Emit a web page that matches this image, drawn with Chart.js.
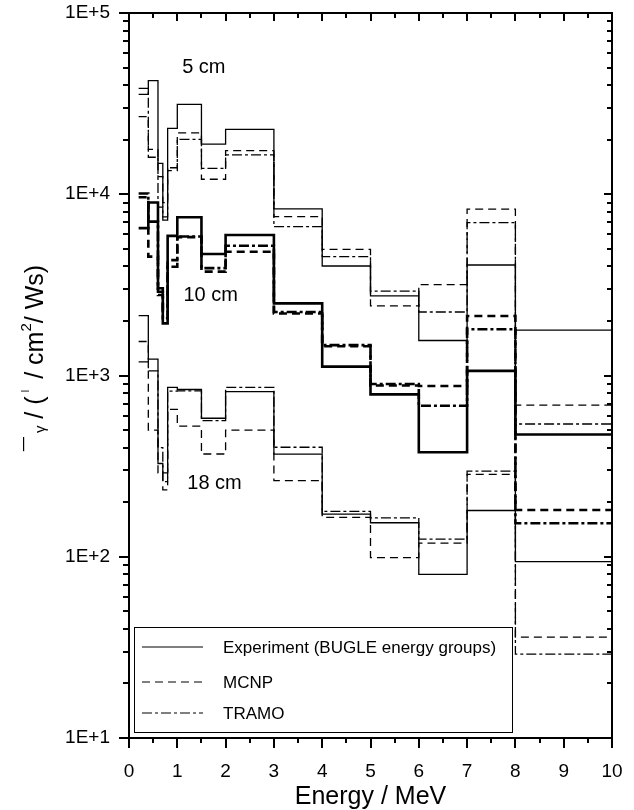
<!DOCTYPE html>
<html>
<head>
<meta charset="utf-8">
<script src="https://cdn.jsdelivr.net/npm/chart.js@4"></script>
<style>
  html, body { margin: 0; padding: 0; background: #fff; }
  #wrap { width: 634px; height: 810px; }
</style>
</head>
<body>
<div id="wrap"><canvas id="chart" width="634" height="810"></canvas></div>
<script>
// BUGLE energy group edges (MeV)
const edges = [0.2, 0.4, 0.6, 0.7, 0.8, 1.0, 1.5, 2, 3, 4, 5, 6, 7, 8, 10];

// 5 cm
const exp5   = [35600, 42400, 14800, 7200, 23100, 31300, 18900, 22800, 8300, 4020, 2750, 1560, 4070, 1780];
const mcnp5  = [26800, 17700, 12500, 9000, 13500, 21800, 12100, 17400, 7520, 4970, 2420, 3170, 8270, 687];
const tramo5 = [38400, 16000, 8500, 7500, 14000, 20100, 13900, 16500, 6620, 4530, 2920, 2240, 6970, 540];

// 10 cm
const exp10   = [6500, 9000, 3030, 1940, 5890, 7470, 4680, 5960, 2500, 1120, 787, 377, 1060, 473];
const mcnp10  = [9620, 4530, 2780, 2300, 4330, 5800, 3740, 4820, 2200, 1450, 880, 875, 2130, 181];
const tramo10 = [10100, 7060, 2900, 2070, 3980, 5850, 3910, 5200, 2240, 1470, 898, 681, 1800, 153];

// 18 cm
const exp18   = [2140, 1230, 327, 290, 859, 837, 581, 814, 368, 172, 154, 80, 180, 94];
const mcnp18  = [1540, 500, 290, 234, 650, 526, 369, 500, 263, 165, 99, 119, 285, 36];
const tramo18 = [1190, 1060, 400, 260, 820, 822, 563, 859, 402, 178, 164, 125, 297, 29];

const yTicks = [10, 100, 1000, 10000, 100000];
const xTicks = [0, 1, 2, 3, 4, 5, 6, 7, 8, 9, 10];

const depthLabels = [
    { text: '5 cm', x: 1.55, y: 50000 },
    { text: '10 cm', x: 1.69, y: 2780 },
    { text: '18 cm', x: 1.77, y: 255 }
];

const legendItems = [
    { text: 'Experiment (BUGLE energy groups)', dash: [] },
    { text: 'MCNP', dash: [8, 5] },
    { text: 'TRAMO', dash: [10, 3, 3, 3] }
];

const FONT = "'Liberation Sans', Arial, sans-serif";
Chart.defaults.font.family = FONT;
Chart.defaults.color = '#000';

// bin values -> step points; value holds from its edge to the next one
function steps(vals) {
    return edges.map((x, i) => ({ x: x, y: vals[Math.min(i, vals.length - 1)] }));
}

function series(vals, dash, width) {
    return {
        data: steps(vals),
        stepped: 'before',
        borderColor: '#000',
        borderWidth: width,
        borderDash: dash,
        pointRadius: 0,
        fill: false
    };
}

// frame, ticks, legend box, labels
const decorPlugin = {
    id: 'decor',
    afterDraw(chart) {
        const ctx = chart.ctx;
        const a = chart.chartArea;
        const xs = chart.scales.x, ys = chart.scales.y;
        ctx.save();
        ctx.strokeStyle = '#000';
        ctx.setLineDash([]);

        // x ticks
        ctx.lineWidth = 2;
        for (let v = 0; v <= 10.001; v += 0.5) {
            const px = Math.round(xs.getPixelForValue(v));
            const major = Math.abs(v - Math.round(v)) < 1e-6;
            ctx.beginPath();
            ctx.moveTo(px, a.bottom); ctx.lineTo(px, a.bottom + (major ? 10 : 5));
            ctx.moveTo(px, a.top); ctx.lineTo(px, a.top + (major ? 8 : 5));
            ctx.stroke();
        }
        // y ticks
        for (let d = 1; d <= 5; d++) {
            for (let m = 1; m <= 9; m++) {
                const v = m * Math.pow(10, d);
                if (v > 100000) break;
                const py = Math.round(ys.getPixelForValue(v));
                const major = m === 1;
                ctx.beginPath();
                ctx.moveTo(a.left, py); ctx.lineTo(a.left - (major ? 10 : 6), py);
                ctx.moveTo(a.right, py); ctx.lineTo(a.right - (major ? 8 : 5), py);
                ctx.stroke();
            }
        }
        // frame
        ctx.lineWidth = 2;
        ctx.strokeRect(a.left, a.top, a.right - a.left, a.bottom - a.top);

        // depth labels
        ctx.fillStyle = '#000';
        ctx.font = '20px ' + FONT;
        ctx.textAlign = 'center';
        ctx.textBaseline = 'middle';
        depthLabels.forEach(l => {
            ctx.fillText(l.text, xs.getPixelForValue(l.x), ys.getPixelForValue(l.y));
        });

        // legend
        const bx = a.left + 5, by = a.bottom - 111, bw = 378, bh = 105;
        ctx.fillStyle = '#fff';
        ctx.fillRect(bx, by, bw, bh);
        ctx.lineWidth = 1;
        ctx.strokeRect(bx + 0.5, by + 0.5, bw, bh);
        ctx.font = '17px ' + FONT;
        ctx.textAlign = 'left';
        ctx.fillStyle = '#000';
        const rows = [by + 20, by + 55, by + 86];
        legendItems.forEach((it, i) => {
            ctx.setLineDash(it.dash);
            ctx.lineWidth = 1.2;
            ctx.beginPath();
            ctx.moveTo(bx + 8, rows[i]); ctx.lineTo(bx + 69, rows[i]);
            ctx.stroke();
            ctx.setLineDash([]);
            ctx.fillText(it.text, bx + 89, rows[i] + 1);
        });

        // y title (rotated)
        ctx.translate(36, 358);
        ctx.rotate(-Math.PI / 2);
        const parts = [
            { t: '\u00AF', s: 25, dy: 0 },
            { t: ' \u03B3', s: 15, dy: 5 },
            { t: ' / (', s: 25, dy: 0 },
            { t: ' \u02E1 ', s: 15, dy: -8 },
            { t: ' / cm', s: 25, dy: 0 },
            { t: '2', s: 15, dy: -9 },
            { t: '/ Ws)', s: 25, dy: 0 }
        ];
        let total = 0;
        parts.forEach(p => { ctx.font = p.s + 'px ' + FONT; total += ctx.measureText(p.t).width; });
        let cx = -total / 2;
        ctx.textBaseline = 'middle';
        parts.forEach(p => {
            ctx.font = p.s + 'px ' + FONT;
            ctx.fillText(p.t, cx, p.dy);
            cx += ctx.measureText(p.t).width;
        });
        ctx.restore();
    }
};

new Chart(document.getElementById('chart'), {
    type: 'line',
    data: {
        datasets: [
            series(exp5, [], 1.3),
            series(mcnp5, [8, 5], 1.3),
            series(tramo5, [10, 3, 3, 3], 1.3),
            series(exp10, [], 2.6),
            series(mcnp10, [8, 5], 2.6),
            series(tramo10, [10, 3, 3, 3], 2.6),
            series(exp18, [], 1.3),
            series(mcnp18, [8, 5], 1.3),
            series(tramo18, [10, 3, 3, 3], 1.3)
        ]
    },
    options: {
        responsive: false,
        animation: false,
        layout: { padding: { top: 13, right: 22, left: 0, bottom: 0 } },
        plugins: { legend: { display: false }, tooltip: { enabled: false } },
        scales: {
            x: {
                type: 'linear',
                min: 0, max: 10,
                afterBuildTicks: s => { s.ticks = xTicks.map(v => ({ value: v })); },
                afterFit: s => { s.height = 72; s.paddingLeft = 0; s.paddingRight = 0; },
                grid: { display: false, drawTicks: false },
                border: { display: false },
                ticks: { font: { size: 19 }, padding: 22, maxRotation: 0 },
                title: { display: true, text: 'Energy / MeV', font: { size: 25, lineHeight: 1 }, padding: { top: 0, bottom: 0 } }
            },
            y: {
                type: 'logarithmic',
                min: 10, max: 100000,
                afterBuildTicks: s => { s.ticks = yTicks.map(v => ({ value: v })); },
                afterFit: s => { s.width = 129; s.paddingTop = 0; s.paddingBottom = 0; },
                grid: { display: false, drawTicks: false },
                border: { display: false },
                ticks: {
                    font: { size: 19 },
                    padding: 19,
                    callback: v => '1E+' + Math.round(Math.log10(v))
                }
            }
        }
    },
    plugins: [decorPlugin]
});
</script>
</body>
</html>
